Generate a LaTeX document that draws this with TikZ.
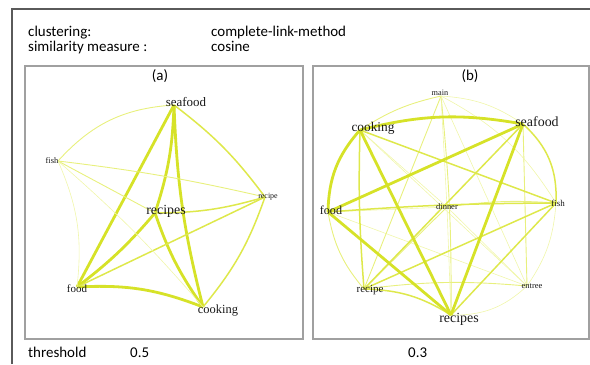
\documentclass[tikz,border=0pt]{standalone}
\usepackage{fontspec}
\setmainfont{Carlito}
\newfontfamily\serifl{Liberation Serif}
\definecolor{frameA}{RGB}{90,90,90}
\definecolor{frameB}{RGB}{160,160,160}
\definecolor{ethick}{RGB}{214,226,40}
\definecolor{emed}{RGB}{222,232,75}
\definecolor{ethin}{RGB}{232,240,125}
\definecolor{evthin}{RGB}{240,246,170}
\begin{document}
\begin{tikzpicture}[x=1bp,y=-1bp,
  hdr/.style={anchor=base west,inner sep=0,font=\fontsize{15}{18}\selectfont},
  lab/.style={inner sep=0,text=black!90,font=\serifl\fontsize{#1}{#1}\selectfont},
  thk/.style={draw=ethick,line width=2.8bp},
  mdm/.style={draw=emed,line width=1.5bp},
  thn/.style={draw=ethin,line width=0.9bp},
  vth/.style={draw=evthin,line width=0.6bp}]
\useasboundingbox (0,0) rectangle (590,364);
\draw[frameA,line width=1.6bp] (12,364) -- (12,9) -- (590,9);
\draw[frameB,line width=1.3bp] (25,66) rectangle (303,339);
\draw[frameB,line width=1.3bp] (313,66) rectangle (589,339);
\node[hdr] (h1) at (28,36) {clustering:};
\node[hdr] (h2) at (211,36) {complete-link-method};
\node[hdr] (h3) at (28,51) {similarity measure :};
\node[hdr] (h4) at (211,51) {cosine};
\node[hdr] (h5) at (28,357) {threshold};
\node[hdr] (h6) at (130,357) {0.5};
\node[hdr] (h7) at (408,357) {0.3};
\node[inner sep=0,font=\fontsize{15}{18}\selectfont] (pa) at (160,76) {(a)};
\node[inner sep=0,font=\fontsize{15}{18}\selectfont] (pb) at (470,76) {(b)};
% ---------- graph (a)
\coordinate (aSea) at (174,105);
\coordinate (aFish) at (58,161);
\coordinate (aRcp) at (265,197);
\coordinate (aRcs) at (155,213);
\coordinate (aFood) at (77,287);
\coordinate (aCook) at (203,307);
\draw[thn] (aSea) to[bend right=22] (aFish);
\draw[mdm] (aSea) to[bend left=8] (aRcp);
\draw[thk] (aSea) to (aFood);
\draw[thk] (aSea) to[bend left=8] (aRcs);
\draw[thk] (aSea) to[bend right=6] (aCook);
\draw[thk] (aRcs) to[bend right=8] (aCook);
\draw[thk] (aRcs) to[bend left=6] (aFood);
\draw[thk] (aFood) to[bend left=12] (aCook);
\draw[mdm] (aFood) to (aRcp);
\draw[mdm] (aRcs) to[bend right=8] (aRcp);
\draw[mdm] (aRcp) to[bend left=10] (aCook);
\draw[thn] (aFish) to[bend left=3] (aRcp);
\draw[vth] (aFish) to[bend left=15] (aFood);
\draw[thn] (aFish) to (aRcs);
\draw[vth] (aFish) to[bend left=4] (aCook);
\node[lab=13] (aSeaL) at (186,102) {seafood};
\node[lab=8.5] (aFishL) at (52,161) {fish};
\node[lab=8] (aRcpL) at (268,197) {recipe};
\node[lab=14] (aRcsL) at (166,211) {recipes};
\node[lab=11] (aFoodL) at (77,289) {food};
\node[lab=12.5] (aCookL) at (218,311) {cooking};
% ---------- graph (b)
\coordinate (bMain) at (441,96);
\coordinate (bCook) at (360,130);
\coordinate (bSea) at (523,124);
\coordinate (bFood) at (328,212);
\coordinate (bDin) at (447,207);
\coordinate (bFish) at (556,203);
\coordinate (bRcp) at (364,289);
\coordinate (bEnt) at (527,286);
\coordinate (bRcs) at (451,315);
\draw[thn] (bCook) to[bend left=10] (bMain);
\draw[vth] (bCook) to (bEnt);
\draw[vth] (bCook) to (bDin);
\draw[vth] (bSea) to[bend right=15] (bMain);
\draw[thn] (bSea) to (bEnt);
\draw[vth] (bFood) to (bEnt);
\draw[vth] (bFood) to (bDin);
\draw[thn] (bFish) to[bend right=6] (bDin);
\draw[vth] (bFish) to[bend left=15] (bEnt);
\draw[thn] (bMain) to (bRcp);
\draw[thn] (bMain) to[bend left=3] (bRcs);
\draw[vth] (bMain) to (bDin);
\draw[vth] (bMain) to (bEnt);
\draw[vth] (bMain) to[bend left=15] (bFish);
\draw[thn] (bRcp) to[bend left=6] (bEnt);
\draw[vth] (bRcs) to[bend right=22] (bEnt);
\draw[thn] (bDin) to (bRcp);
\draw[vth] (bDin) to (bRcs);
\draw[vth] (bDin) to (bEnt);
\draw[thn] (bFood) to[bend right=15] (bRcp);
\draw[mdm] (bCook) to[bend right=3] (bRcp);
\draw[mdm] (bCook) to (bFish);
\draw[mdm] (bSea) to (bRcp);
\draw[mdm] (bSea) to[bend left=25] (bFish);
\draw[mdm] (bFood) to[bend left=2] (bFish);
\draw[mdm] (bFish) to (bRcp);
\draw[mdm] (bFish) to (bRcs);
\draw[mdm] (bRcp) to[bend left=15] (bRcs);
\draw[thk] (bCook) to[bend left=12] (bSea);
\draw[thk] (bCook) to[bend right=20] (bFood);
\draw[thk] (bCook) to (bRcs);
\draw[thk] (bSea) to (bFood);
\draw[thk] (bSea) to (bRcs);
\draw[thk] (bFood) to (bRcs);
\node[lab=8.3] (bMainL) at (440,93) {main};
\node[lab=13.4] (bCookL) at (373,128) {cooking};
\node[lab=14] (bSeaL) at (537,122) {seafood};
\node[lab=12.2] (bFoodL) at (331,210) {food};
\node[lab=8.5] (bDinL) at (447,207) {dinner};
\node[lab=9] (bFishL) at (558,203) {fish};
\node[lab=11] (bRcpL) at (370,290) {recipe};
\node[lab=8.5] (bEntL) at (532,286) {entree};
\node[lab=14] (bRcsL) at (459,319) {recipes};
\end{tikzpicture}
\end{document}
